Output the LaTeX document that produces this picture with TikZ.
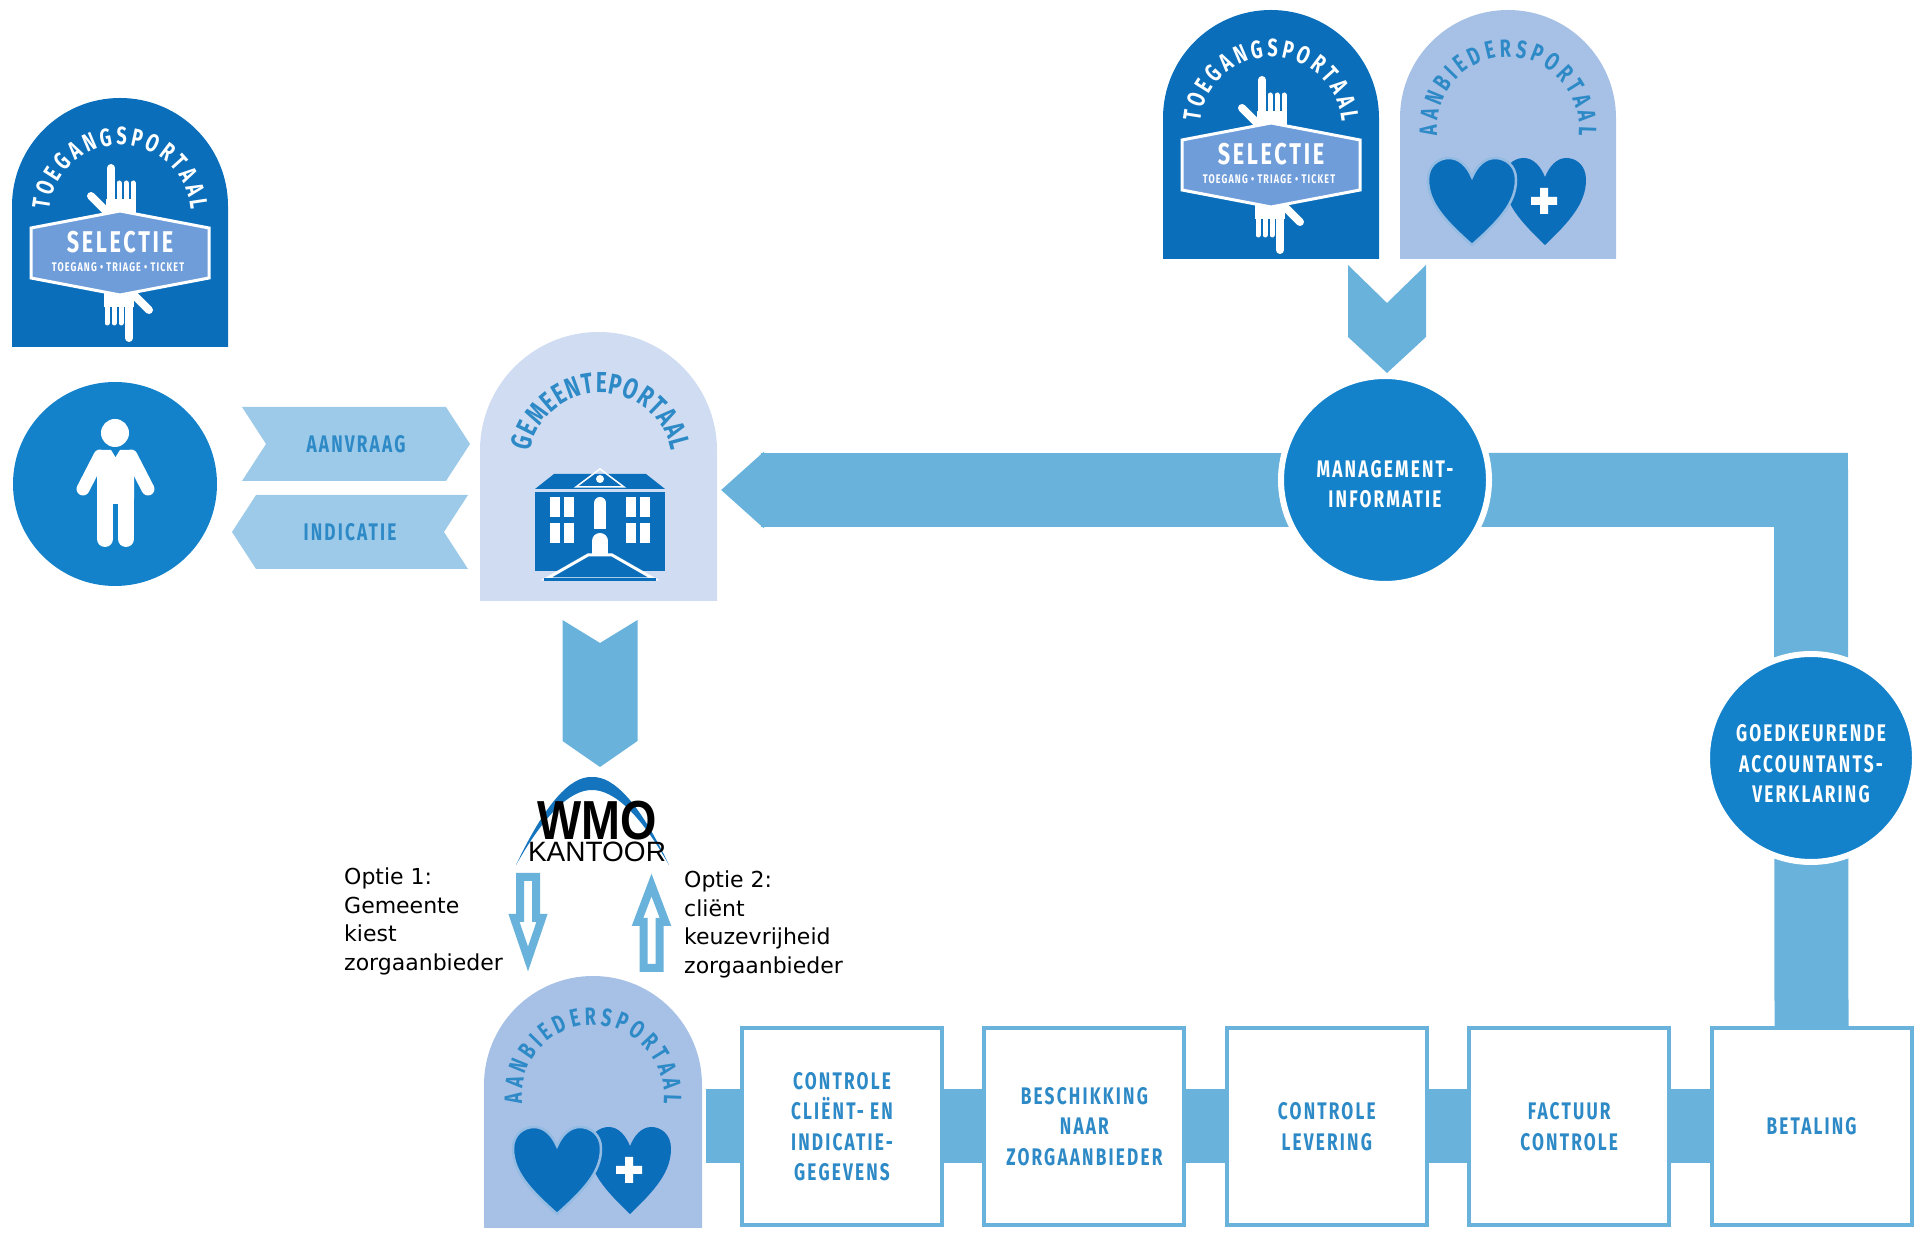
\documentclass[tikz,border=0pt]{standalone}
\usepackage{xcolor}
\usepackage{fontspec}
\usetikzlibrary{positioning,arrows.meta,backgrounds,decorations.text,shapes.symbols}
\setmainfont{DejaVu Sans}
\newfontfamily\smalfont[FakeStretch=0.72,LetterSpace=9]{Fira Sans}
\newfontfamily\boogfont[FakeStretch=0.72]{Fira Sans}
\newfontfamily\logofont{Liberation Sans}

\definecolor{portaalblauw}{HTML}{0B6EBB}
\definecolor{cirkelblauw}{HTML}{1382CB}
\definecolor{bandblauw}{HTML}{69B2DC}
\definecolor{pijlblauw}{HTML}{9CCAE8}
\definecolor{gemeentekleur}{HTML}{D0DCF2}
\definecolor{aanbiederkleur}{HTML}{A6C0E6}
\definecolor{zeshoekkleur}{HTML}{6F9DDA}
\definecolor{tekstblauw}{HTML}{2E8AC6}

\tikzset{
  procbox/.style={draw=bandblauw,line width=4pt,fill=white,outer sep=0pt,minimum width=200pt,minimum height=197pt,
    align=center,text=tekstblauw,font=\smalfont\bfseries\fontsize{24}{30.5}\selectfont},
  rondje/.style={circle,draw=white,line width=6pt,fill=cirkelblauw,minimum size=208pt,inner sep=0pt,outer sep=0pt},
  rondtekst/.style={align=center,text=white,inner sep=0pt,font=\smalfont\bfseries\fontsize{24}{30.5}\selectfont},
  bandlijn/.style={draw=bandblauw,line width=74pt,line join=miter},
  labelpijl/.style={shape=signal,signal to=east,signal from=west,signal pointer angle=114,fill=pijlblauw,
    inner sep=0pt,outer sep=0pt,text=tekstblauw,font=\smalfont\bfseries\fontsize{24}{30}\selectfont},
  optiepijl/.style={draw=bandblauw,line width=8pt,fill=white,line join=miter},
  optietekst/.style={align=left,inner sep=0pt,anchor=north west,font=\fontsize{22}{28.5}\selectfont},
  badgetekst/.style={align=center,text=white,inner sep=0pt}
}

\newcommand{\portaalbadge}[6]{%
  \fill[#6] ({#2-#4},#3) -- ++(0,{#5-#4}) arc[start angle=180,end angle=0,radius=#4pt] -- ({#2+#4},#3) -- cycle;
  \node[inner sep=0pt,outer sep=0pt,minimum width=2*#4pt,minimum height=#5pt] (#1) at (#2,{#3+#5/2}) {};
}
\newcommand{\boogtekst}[7]{%
  \path[decorate,decoration={text along path,text align=fit to path,
    text={|\boogfont\bfseries\fontsize{#6}{#6}\selectfont\color{#7}|#5}}]
    (#1) ++(#3:#2pt) arc[start angle=#3,end angle=#4,radius=#2pt];
}
\newcommand{\neerchevron}[7]{%
  \fill[bandblauw] ({#2-#3},#4) -- (#2,#5) -- ({#2+#3},#4) -- ({#2+#3},#6) -- (#2,#7) -- ({#2-#3},#6) -- cycle;
  \coordinate (#1) at (#2,#5);
}
\newcommand{\selectiehand}{%
  \draw[white,line width=8pt,line cap=round] (-9,85) -- (-9,40);
  \draw[white,line width=8pt,line cap=round] (-29,57) -- (-12,40);
  \draw[white,line width=5pt,line cap=round] (-1,70) -- (-1,40) (6,70) -- (6,40) (13,70) -- (13,40);
  \fill[white] (-14,30) rectangle (16,54);
}
\newcommand{\selectielogo}[2]{%
  \begin{scope}[shift={(#1,#2)}]
    \selectiehand
    \begin{scope}[rotate=180]\selectiehand\end{scope}
    \fill[zeshoekkleur,draw=white,line width=3pt] (-89,25) -- (0,42) -- (89,25) -- (89,-25) -- (0,-42) -- (-89,-25) -- cycle;
    \node[badgetekst,font=\smalfont\bfseries\fontsize{30}{30}\selectfont] (selectie#1) at (0,11) {SELECTIE};
    \node[badgetekst,font=\smalfont\bfseries\fontsize{12.5}{13}\selectfont] (triage#1) at (-2,-14) {TOEGANG • TRIAGE • TICKET};
  \end{scope}
}
\newcommand{\hartpad}{(0,0) .. controls (-.6,.27) and (-1,.48) .. (-1,.75) .. controls (-1,.92) and (-.75,1) .. (-.52,1)
  .. controls (-.28,1) and (-.1,.9) .. (0,.78) .. controls (.1,.9) and (.28,1) .. (.52,1)
  .. controls (.75,1) and (1,.92) .. (1,.75) .. controls (1,.48) and (.6,.27) .. (0,0) -- cycle}
\newcommand{\hartjes}[2]{%
  \begin{scope}[shift={(#1+37,#2+14)},x=41pt,y=87pt]
    \fill[portaalblauw] \hartpad;
  \end{scope}
  \begin{scope}[shift={(#1-36,#2+14)},x=44pt,y=87pt]
    \fill[portaalblauw,draw=aanbiederkleur!70!bandblauw,line width=2.5pt] \hartpad;
  \end{scope}
  \fill[white] ({#1+36-13},{#2+54}) rectangle ({#1+36+13},{#2+62}) ({#1+36-4},{#2+45}) rectangle ({#1+36+4},{#2+71});
}

\begin{document}
\begin{tikzpicture}[x=1pt,y=1pt]
\useasboundingbox (0,0) rectangle (1915,1234);

\portaalbadge{toegang}{120}{887}{108}{249}{portaalblauw}
\boogtekst{120,1018}{71}{175}{5}{TOEGANGSPORTAAL}{25}{white}
\selectielogo{120}{981}

\portaalbadge{toegangrechts}{1271}{975}{108}{249}{portaalblauw}
\boogtekst{1271,1106}{71}{175}{5}{TOEGANGSPORTAAL}{25}{white}
\selectielogo{1271}{1069}

\portaalbadge{aanbiederrechts}{1508}{975}{108}{249}{aanbiederkleur}
\boogtekst{1508,1106}{71}{186}{-6}{AANBIEDERSPORTAAL}{25}{tekstblauw}
\hartjes{1508}{975}

\portaalbadge{aanbieder}{593}{6}{109}{252}{aanbiederkleur}
\boogtekst{593,138}{71}{186}{-6}{AANBIEDERSPORTAAL}{25}{tekstblauw}
\hartjes{593}{6}

\portaalbadge{gemeente}{598.5}{633}{118.5}{269}{gemeentekleur}
\boogtekst{600.5,769}{72}{169}{11}{GEMEENTEPORTAAL}{29}{tekstblauw}
\begin{scope}[shift={(600,655)}]
  \fill[portaalblauw] (-65,90) -- (-46,105) -- (46,105) -- (65,90) -- cycle;
  \draw[white,line width=1.5pt] (-24,92) -- (0,110) -- (24,92) -- cycle;
  \fill[white] (0,100) circle (4pt);
  \fill[portaalblauw] (-65,8) rectangle (65,87);
  \foreach \kolom in {-50,-36,26,40}{
    \fill[white] (\kolom,62) rectangle ++(10,20);
    \fill[white] (\kolom,36) rectangle ++(10,20);
  }
  \fill[white] (-6,50) rectangle (6,76);
  \fill[white] (0,76) circle (6pt);
  \fill[white] (-8,22) rectangle (8,38);
  \fill[white] (0,38) circle (8pt);
  \fill[portaalblauw,draw=white,line width=3pt] (-54,0) -- (-12,24) -- (12,24) -- (54,0) -- cycle;
  \fill[portaalblauw] (-56,-2) rectangle (56,1);
\end{scope}

\node[rondje,minimum size=204pt,draw=none] (client) at (115,750) {};
\fill[white] (client.center) ++(0,51) circle (14pt);
\draw[white,line width=13pt,line cap=round,line join=round] (100,778) -- (83,745) (131,778) -- (148,745);
\fill[white,rounded corners=5pt] (97,784) -- (134,784) -- (134,730) -- (97,730) -- cycle;
\draw[white,line width=16pt,line cap=round] (105,740) -- (105,695) (126,740) -- (126,695);
\fill[cirkelblauw] (110,786) -- (121,786) -- (115.5,777) -- cycle;

\node[labelpijl,minimum width=228pt,minimum height=74pt] (aanvraag) at (356,790) {AANVRAAG};
\node[labelpijl,signal to=west,signal from=east,minimum width=236pt,minimum height=74pt] (indicatie) at (350,702) {INDICATIE\hspace{10pt}};

\neerchevron{neer}{600}{37.5}{614}{591}{493}{467}
\neerchevron{neerrechts}{1387}{39}{969}{931}{897}{861}

\fill[portaalblauw!90!bandblauw] (516,369) .. controls (545,430) and (570,458) .. (592,457) .. controls (614,458) and (640,430) .. (669,369)
  .. controls (640,420) and (614,444) .. (592,444) .. controls (570,444) and (545,420) .. (516,369) -- cycle;
\node[inner sep=0pt,font=\logofont\bfseries\addfontfeature{FakeStretch=0.85}\fontsize{55}{55}\selectfont] (wmo) at (597,413) {WMO};
\node[inner sep=0pt,below=1pt of wmo,font=\logofont\fontsize{28}{28}\selectfont] (kantoor) {KANTOOR};

\draw[optiepijl] (520,357) -- (536,357) -- (536,316) -- (542,316) -- (528,275) -- (514,316) -- (520,316) -- cycle;
\draw[optiepijl] (643.5,266) -- (659.5,266) -- (659.5,312) -- (665.5,312) -- (651.5,349) -- (637.5,312) -- (643.5,312) -- cycle;

\node[optietekst] (optie1) at (344,366) {Optie 1:\\Gemeente\\kiest\\zorgaanbieder};
\node[optietekst] (optie2) at (684,363) {Optie 2:\\cliënt\\keuzevrijheid\\zorgaanbieder};

\node[procbox] (box1) at (842,107.5) {CONTROLE\\CLIËNT- EN\\INDICATIE-\\GEGEVENS};
\node[procbox,right=42.4pt of box1] (box2) {BESCHIKKING\\NAAR\\ZORGAANBIEDER};
\node[procbox,right=42.4pt of box2] (box3) {CONTROLE\\LEVERING};
\node[procbox,right=42.4pt of box3] (box4) {FACTUUR\\CONTROLE};
\node[procbox,right=42.4pt of box4] (box5) {BETALING};

\node[rondje] (mgmt) at (1385,754) {};
\node[rondtekst] (mgmttekst) at ([yshift=-4pt]mgmt.center) {MANAGEMENT-\\INFORMATIE};
\node[rondje] (goedkeuring) at (1811,476) {};
\node[rondtekst] (goedkeuringtekst) at ([yshift=-6pt]goedkeuring.center) {GOEDKEURENDE\\ACCOUNTANTS-\\VERKLARING};
\coordinate (hoek) at (1811,744);
\coordinate (gemeentepunt) at (721,744);

\begin{scope}[on background layer]
  \draw[bandlijn,shorten <=4pt] (box1.west -| aanbieder.east) -- (box1.west);
  \draw[bandlijn] (box1) -- (box2);
  \draw[bandlijn] (box2) -- (box3);
  \draw[bandlijn] (box3) -- (box4);
  \draw[bandlijn] (box4) -- (box5);
  \draw[bandlijn] (box5.center) -- (hoek) -- (hoek -| mgmt.center);
  \draw[bandlijn,-{Triangle[length=43pt,width=74pt]}] (hoek -| mgmt.center) -- (gemeentepunt);
\end{scope}
\end{tikzpicture}
\end{document}
